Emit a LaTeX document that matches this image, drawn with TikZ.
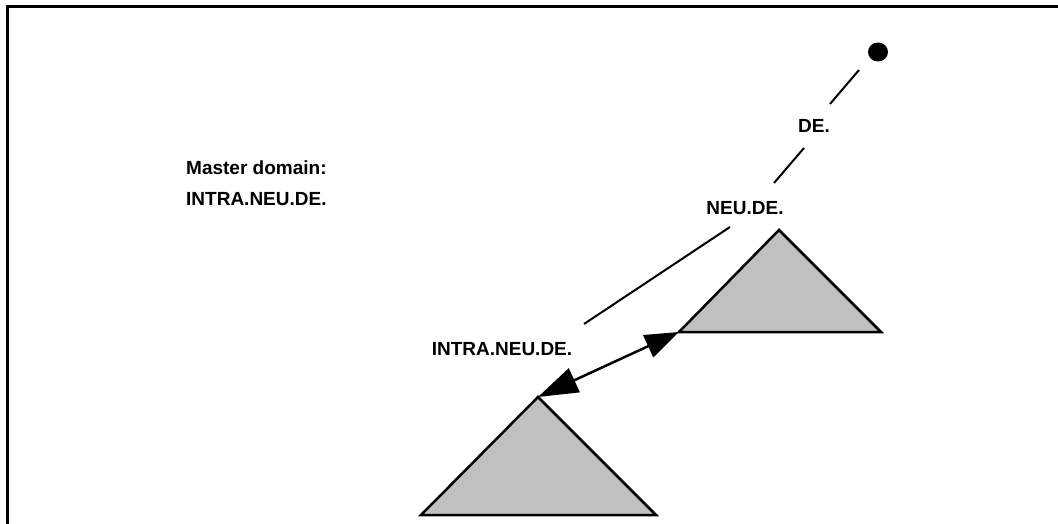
\documentclass[tikz,border=0pt]{standalone}
\usepackage{fontspec}
\setmainfont{Liberation Sans}
\usetikzlibrary{arrows.meta}
\definecolor{zonegray}{HTML}{C0C0C0}
\begin{document}
\begin{tikzpicture}[x=1pt,y=-1pt,
  lbl/.style={font=\fontsize{19}{22}\selectfont\bfseries, inner sep=0pt},
  link/.style={line width=2pt},
  zone/.style={draw=black, fill=zonegray, line width=2.5pt, line join=miter},
  trust/.style={line width=2.5pt, {Triangle[length=40pt,width=26pt]}-{Triangle[length=34pt,width=24pt]}}]
  \useasboundingbox (0,0) rectangle (1058,524);
  % frame
  \draw[line width=3pt] (7,524) -- (7,7) -- (1058,7);

  % root of the namespace
  \fill (878,52) ellipse (10 and 9.5);
  \coordinate (r1) at (859,70);
  \coordinate (r2) at (830,104);
  \coordinate (r3) at (804,148);
  \coordinate (r4) at (774,183);
  \draw[link] (r1) -- (r2);
  \draw[link] (r3) -- (r4);
  \node[lbl, anchor=base] (de) at (814,132.5) {DE.};
  \node[lbl, anchor=base] (neu) at (745,214.5) {NEU.DE.};

  \coordinate (n1) at (730,227);
  \coordinate (n2) at (584,324);
  \draw[link] (n1) -- (n2);

  % domain trees
  \coordinate (ua) at (779,230);
  \coordinate (ul) at (679,332);
  \coordinate (ur) at (881,332);
  \draw[zone] (ua) -- (ur) -- (ul) -- cycle;
  \coordinate (la) at (538,397);
  \coordinate (ll) at (421,515);
  \coordinate (lr) at (656,515);
  \draw[zone] (la) -- (lr) -- (ll) -- cycle;

  \node[lbl, anchor=base] (intra) at (502,355) {INTRA.NEU.DE.};

  % trust relationship
  \draw[trust] (la) -- (ul);

  % master domain note
  \node[lbl, anchor=base west] (m1) at (186,175) {Master domain:};
  \node[lbl, anchor=base west] (m2) at (186,205) {INTRA.NEU.DE.};
\end{tikzpicture}
\end{document}
